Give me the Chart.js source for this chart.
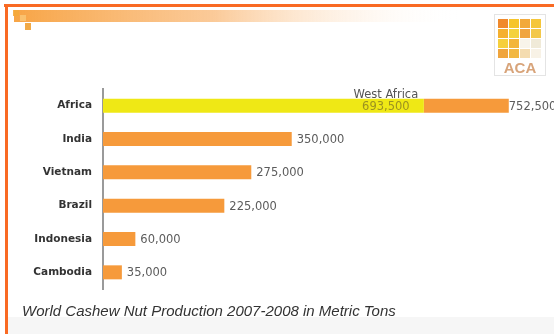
<!DOCTYPE html>
<html>
<head>
<meta charset="utf-8">
<script src="https://cdn.jsdelivr.net/npm/chart.js@4/dist/chart.umd.min.js"></script>
<style>
  html, body { margin: 0; padding: 0; background: #ffffff; }
  #wrap { position: relative; width: 554px; height: 334px; }
  canvas { display: block; }
</style>
</head>
<body>
<div id="wrap"><canvas id="c" width="554" height="334"></canvas></div>
<script>
// ---- data ----
const categories = ['Africa', 'India', 'Vietnam', 'Brazil', 'Indonesia', 'Cambodia'];
const totals = [752500, 350000, 275000, 225000, 60000, 35000];
const westAfrica = [595000, 0, 0, 0, 0, 0];
const valueLabels = ['752,500', '350,000', '275,000', '225,000', '60,000', '35,000'];
const westAfricaName = 'West Africa';
const westAfricaLabel = '693,500';
const captionText = 'World Cashew Nut Production 2007-2008 in Metric Tons';
const logoText = 'ACA';

const remainder = totals.map((t, i) => t - westAfrica[i]);

const YELLOW = '#efe815';
const ORANGE = '#f69a3b';

const decorPlugin = {
  id: 'decor',
  beforeDraw(chart) {
    const ctx = chart.ctx;
    ctx.save();
    // bottom grey band
    ctx.fillStyle = '#f6f6f6';
    ctx.fillRect(8, 317, 546, 17);
    // header gradient band
    const g = ctx.createLinearGradient(14, 0, 460, 0);
    g.addColorStop(0, 'rgba(247,160,60,0.95)');
    g.addColorStop(0.45, 'rgba(249,180,110,0.7)');
    g.addColorStop(1, 'rgba(255,255,255,0)');
    ctx.fillStyle = g;
    ctx.fillRect(14, 10, 454, 12);
    // little squares top-left
    ctx.fillStyle = 'rgba(245,170,60,0.9)';
    ctx.fillRect(13, 10, 6, 6);
    ctx.fillStyle = 'rgba(250,200,120,0.8)';
    ctx.fillRect(20, 15, 6, 6);
    ctx.fillStyle = 'rgba(240,160,50,0.9)';
    ctx.fillRect(25, 23, 6, 7);
    // logo box
    ctx.strokeStyle = '#e4e4e4';
    ctx.lineWidth = 1;
    ctx.strokeRect(494.5, 14.5, 51, 61);
    const cols = [
      ['#f08a2c', '#f6c52a', '#f2a93a', '#f5c63a'],
      ['#f5b02e', '#f4d23c', '#f0a540', '#f3c84a'],
      ['#f6cf3c', '#f3b53a', '#f8f4ea', '#f0ead8'],
      ['#f0a53c', '#f2b842', '#f4dcb0', '#f8f2e6']
    ];
    for (let r = 0; r < 4; r++) {
      for (let c = 0; c < 4; c++) {
        ctx.fillStyle = cols[r][c];
        ctx.fillRect(498 + c * 11, 19 + r * 10, 10, 9);
      }
    }
    ctx.fillStyle = '#d8a47a';
    ctx.font = 'bold 15px "Liberation Sans", Arial, sans-serif';
    ctx.textAlign = 'center';
    ctx.textBaseline = 'alphabetic';
    ctx.fillText(logoText, 520, 73);
    // orange frame
    ctx.fillStyle = '#f96a23';
    ctx.fillRect(4, 4, 550, 3);
    ctx.fillRect(5, 4, 3, 330);
    ctx.restore();
  },
  afterDatasetsDraw(chart) {
    const ctx = chart.ctx;
    ctx.save();
    const metaW = chart.getDatasetMeta(0);
    const metaR = chart.getDatasetMeta(1);
    ctx.textBaseline = 'middle';
    ctx.font = '11.5px "DejaVu Sans", Verdana, sans-serif';
    // value labels after total bars
    metaR.data.forEach((bar, i) => {
      ctx.fillStyle = '#5c5c5c';
      ctx.textAlign = 'left';
      ctx.fillText(valueLabels[i], bar.x + (i === 0 ? 0 : 5), bar.y + 1);
    });
    // West Africa labels
    const wb = metaW.data[0];
    const cx = wb.x - 38;
    ctx.textAlign = 'center';
    ctx.fillStyle = '#555555';
    ctx.fillText(westAfricaName, cx, wb.y - 11);
    ctx.fillStyle = '#9c9220';
    ctx.fillText(westAfricaLabel, cx, wb.y + 1);
    // caption
    ctx.font = 'italic 15px "Liberation Sans", Arial, sans-serif';
    ctx.fillStyle = '#333333';
    ctx.textAlign = 'left';
    ctx.textBaseline = 'alphabetic';
    ctx.fillText(captionText, 22, 316);
    ctx.restore();
  }
};

new Chart(document.getElementById('c'), {
  type: 'bar',
  data: {
    labels: categories,
    datasets: [
      { label: 'West Africa', data: westAfrica, backgroundColor: YELLOW, borderWidth: 0 },
      { label: 'Total', data: remainder, backgroundColor: ORANGE, borderWidth: 0 }
    ]
  },
  options: {
    indexAxis: 'y',
    responsive: false,
    animation: false,
    devicePixelRatio: 1,
    layout: { padding: { left: 8, right: 25, top: 89, bottom: 45 } },
    datasets: { bar: { barPercentage: 0.42, categoryPercentage: 1.0 } },
    plugins: { legend: { display: false }, tooltip: { enabled: false } },
    scales: {
      x: {
        stacked: true, min: 0, max: 790000, display: false
      },
      y: {
        stacked: true,
        grid: { display: false, drawTicks: false },
        border: { display: true, color: '#9a9a9a', width: 2 },
        ticks: {
          color: '#333333',
          padding: 11,
          font: { family: '"DejaVu Sans", Verdana, sans-serif', weight: 'bold', size: 10.5 }
        },
        afterFit(scale) { scale.width = 95; }
      }
    }
  },
  plugins: [decorPlugin]
});
</script>
</body>
</html>
